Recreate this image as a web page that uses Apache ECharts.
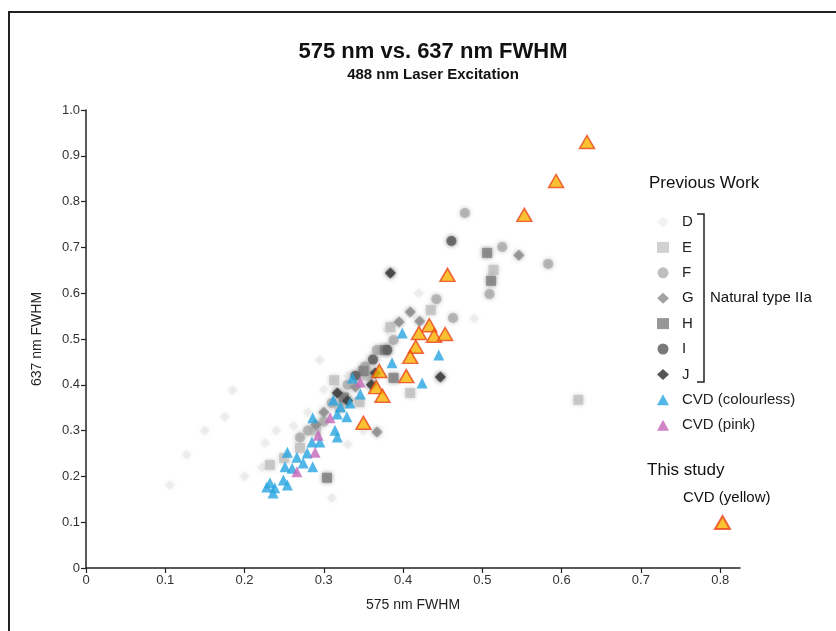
<!DOCTYPE html>
<html>
<head>
<meta charset="utf-8">
<script src="https://cdn.jsdelivr.net/npm/echarts@6/dist/echarts.min.js"></script>
<style>
html,body{margin:0;padding:0;background:#fff;}
#chart{width:836px;height:631px;}
</style>
</head>
<body>
<div id="chart"></div>
<script>
// ---- data (575 nm FWHM, 637 nm FWHM) ----
const xTicks = [0, 0.1, 0.2, 0.3, 0.4, 0.5, 0.6, 0.7, 0.8];
const yTicks = [0, 0.1, 0.2, 0.3, 0.4, 0.5, 0.6, 0.7, 0.8, 0.9, 1.0];

const seriesD = [[0.185,0.388],[0.175,0.330],[0.127,0.247],[0.106,0.181],[0.226,0.273],[0.310,0.153],[0.295,0.454],[0.222,0.220],[0.240,0.300],[0.262,0.310],[0.280,0.340],[0.300,0.390],[0.330,0.420],[0.380,0.520],[0.420,0.600],[0.490,0.545],[0.330,0.270],[0.350,0.300],[0.150,0.300],[0.200,0.200]];
const seriesE = [[0.514,0.651],[0.435,0.563],[0.384,0.526],[0.409,0.382],[0.621,0.367],[0.355,0.420],[0.320,0.350],[0.290,0.300],[0.270,0.262],[0.250,0.240],[0.232,0.225],[0.313,0.410],[0.345,0.362]];
const seriesF = [[0.478,0.775],[0.525,0.701],[0.583,0.664],[0.442,0.587],[0.463,0.546],[0.388,0.498],[0.367,0.476],[0.509,0.598],[0.352,0.440],[0.330,0.400],[0.310,0.360],[0.280,0.300],[0.300,0.320],[0.270,0.285]];
const seriesG = [[0.546,0.683],[0.409,0.559],[0.421,0.539],[0.395,0.537],[0.367,0.297],[0.340,0.395],[0.300,0.340],[0.290,0.313]];
const seriesH = [[0.506,0.688],[0.511,0.627],[0.377,0.476],[0.388,0.415],[0.304,0.197],[0.350,0.430],[0.325,0.372]];
const seriesI = [[0.461,0.714],[0.380,0.476],[0.362,0.455],[0.340,0.420]];
const seriesJ = [[0.384,0.644],[0.447,0.417],[0.365,0.426],[0.317,0.382],[0.330,0.365],[0.360,0.400]];
const cvdColourless = [[0.399,0.513],[0.445,0.465],[0.386,0.448],[0.424,0.404],[0.336,0.415],[0.346,0.380],[0.312,0.367],[0.321,0.352],[0.333,0.360],[0.317,0.336],[0.329,0.330],[0.286,0.328],[0.314,0.301],[0.317,0.286],[0.285,0.275],[0.295,0.275],[0.254,0.253],[0.266,0.242],[0.279,0.251],[0.274,0.229],[0.286,0.221],[0.251,0.221],[0.260,0.218],[0.249,0.192],[0.232,0.186],[0.228,0.177],[0.238,0.175],[0.254,0.181],[0.236,0.164]];
const cvdPink = [[0.346,0.406],[0.308,0.328],[0.293,0.290],[0.289,0.253],[0.266,0.210]];
const cvdYellow = [[0.632,0.930],[0.593,0.845],[0.553,0.771],[0.456,0.640],[0.433,0.530],[0.420,0.513],[0.439,0.507],[0.453,0.511],[0.416,0.483],[0.409,0.461],[0.404,0.419],[0.370,0.430],[0.366,0.395],[0.374,0.376],[0.350,0.317]];

const FONT = "'Liberation Sans', Arial, sans-serif";

function greySeries(name, data, symbol, color, size, opacity) {
  return {
    name, type: 'scatter', data, symbol, symbolSize: size,
    itemStyle: { color, opacity, shadowBlur: 4, shadowColor: color },
    emphasis: { disabled: true }
  };
}

const chart = echarts.init(document.getElementById('chart'));
chart.setOption({
  animation: false,
  backgroundColor: '#fff',
  title: {
    text: '575 nm vs. 637 nm FWHM',
    subtext: '488 nm Laser Excitation',
    left: 428, top: 36, textAlign: 'center', itemGap: 4,
    textStyle: { fontFamily: FONT, fontWeight: 'bold', fontSize: 22, color: '#111' },
    subtextStyle: { fontFamily: FONT, fontWeight: 'bold', fontSize: 15, color: '#111' }
  },
  grid: { left: 86, right: 96, top: 110, bottom: 63, containLabel: false },
  xAxis: {
    type: 'value', min: 0, max: 0.825, interval: 0.1,
    name: '575 nm FWHM', nameLocation: 'middle', nameGap: 30,
    nameTextStyle: { fontFamily: FONT, fontSize: 14, color: '#222' },
    splitLine: { show: false },
    axisLine: { onZero: false, lineStyle: { color: '#222', width: 1.5 } },
    axisTick: { show: true, length: 5, lineStyle: { color: '#222', width: 1.2 }, customValues: xTicks },
    axisLabel: { customValues: xTicks, margin: 6, fontFamily: FONT, fontSize: 13, color: '#333',
      formatter: v => v === 0 ? '0' : (+v).toFixed(1) }
  },
  yAxis: {
    type: 'value', min: 0, max: 1.0, interval: 0.1,
    name: '637 nm FWHM', nameLocation: 'middle', nameGap: 42, nameRotate: 90,
    nameTextStyle: { fontFamily: FONT, fontSize: 14, color: '#222' },
    splitLine: { show: false },
    axisLine: { show: true, onZero: false, lineStyle: { color: '#222', width: 1.5 } },
    axisTick: { show: true, length: 5, lineStyle: { color: '#222', width: 1.2 }, customValues: yTicks },
    axisLabel: { customValues: yTicks, margin: 6, fontFamily: FONT, fontSize: 13, color: '#333',
      formatter: v => v === 0 ? '0' : (+v).toFixed(1) }
  },
  legend: [{
    orient: 'vertical', left: 657, top: 214, padding: 0,
    itemWidth: 12, itemHeight: 11, itemGap: 9.4,
    textStyle: { fontFamily: FONT, fontSize: 15, color: '#222', lineHeight: 16, padding: [0, 0, 0, 8] },
    data: [
      { name: 'D', icon: 'diamond' }, { name: 'E', icon: 'rect' }, { name: 'F', icon: 'circle' },
      { name: 'G', icon: 'diamond' }, { name: 'H', icon: 'rect' }, { name: 'I', icon: 'circle' },
      { name: 'J', icon: 'diamond' },
      { name: 'CVD (colourless)', icon: 'triangle' }, { name: 'CVD (pink)', icon: 'triangle' }
    ],
    selectedMode: false
  }, {
    orient: 'vertical', left: 714, top: 515, padding: 0,
    itemWidth: 15, itemHeight: 13, formatter: () => '',
    data: [{ name: 'CVD (yellow)', icon: 'triangle' }],
    selectedMode: false
  }],
  graphic: [
    { type: 'rect', shape: { x: 9, y: 12, width: 840, height: 640 }, style: { fill: 'none', stroke: '#222', lineWidth: 2 }, silent: true },
    { type: 'text', left: 649, top: 175, style: { text: 'Previous Work', fontFamily: FONT, fontSize: 17, fill: '#111' } },
    { type: 'polyline', shape: { points: [[697,214],[704,214],[704,382],[697,382]] }, style: { stroke: '#222', lineWidth: 1.5, fill: 'none' } },
    { type: 'text', left: 710, top: 290, style: { text: 'Natural type IIa', fontFamily: FONT, fontSize: 15, fill: '#111' } },
    { type: 'text', left: 647, top: 462, style: { text: 'This study', fontFamily: FONT, fontSize: 17, fill: '#111' } },
    { type: 'text', left: 683, top: 490, style: { text: 'CVD (yellow)', fontFamily: FONT, fontSize: 15, fill: '#111' } }
  ],
  series: [
    greySeries('D', seriesD, 'diamond', '#dadada', 10, 0.35),
    greySeries('E', seriesE, 'rect', '#bdbdbd', 10, 0.7),
    greySeries('F', seriesF, 'circle', '#a9a9a9', 10, 0.75),
    greySeries('G', seriesG, 'diamond', '#8c8c8c', 11, 0.8),
    greySeries('H', seriesH, 'rect', '#858585', 10, 0.85),
    greySeries('I', seriesI, 'circle', '#626262', 10, 0.85),
    greySeries('J', seriesJ, 'diamond', '#444444', 11, 0.9),
    { name: 'CVD (colourless)', type: 'scatter', data: cvdColourless, symbol: 'triangle', symbolSize: 11,
      itemStyle: { color: '#27a5e0' }, emphasis: { disabled: true } },
    { name: 'CVD (pink)', type: 'scatter', data: cvdPink, symbol: 'triangle', symbolSize: 11,
      itemStyle: { color: '#c467b9' }, emphasis: { disabled: true } },
    { name: 'CVD (yellow)', type: 'scatter', data: cvdYellow, symbol: 'triangle', symbolSize: [15, 13],
      itemStyle: { color: '#f9b200', borderColor: '#e8431a', borderWidth: 1.5 }, emphasis: { disabled: true } }
  ]
});
</script>
</body>
</html>
